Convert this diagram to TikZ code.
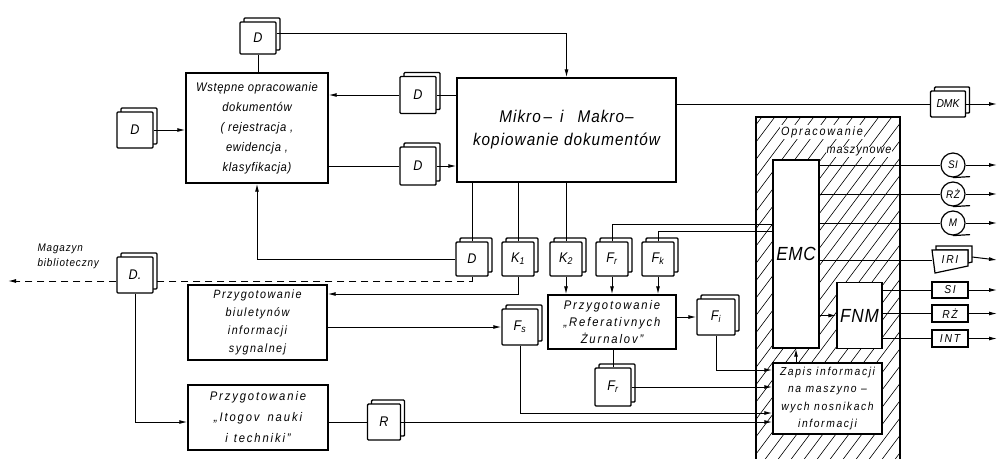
\documentclass[tikz,border=0pt]{standalone}
\usepackage{fontspec}
\setmainfont{Liberation Sans}[FakeStretch=0.9]
\usetikzlibrary{arrows.meta,shadows,calc}
\newcommand\dfnt[3]{\fontsize{#1}{#2}\selectfont\itshape\addfontfeature{LetterSpace=#3}}
\tikzset{
  bx/.style={draw, line width=1.4pt, fill=white, inner sep=1pt, align=center},
  doc/.style={draw, line width=1.4pt, fill=white, inner sep=0pt, rounded corners=1pt,
    minimum width=33, minimum height=34,
    copy shadow={shadow xshift=4pt, shadow yshift=4pt, draw, fill=white},
    font=\dfnt{14}{14}{0}},
  circ/.style={draw, circle, line width=1.2pt, fill=white, minimum size=24, inner sep=0pt, font=\dfnt{11}{11}{5}},
  outb/.style={draw, line width=1.2pt, fill=white, minimum width=36, minimum height=16, inner sep=0pt, font=\dfnt{11.5}{11}{15}},
  conn/.style={line width=1pt},
  arr/.style={line width=1pt, -{Latex[length=8pt,width=4pt]}},
}
\begin{document}
\begin{tikzpicture}[x=1pt,y=-1pt]
\useasboundingbox (0,0) rectangle (1000,458);
% coordinates for free ends
\coordinate (rx) at (997,0);
\coordinate (lx) at (8,0);
\coordinate (yd) at (0,281);
\coordinate (y294) at (0,294);
\coordinate (y413) at (0,413);
\coordinate (y370) at (0,370);
\coordinate (y224) at (0,224);
\coordinate (y231) at (0,231);
\coordinate (y33) at (0,33);
% hatched area
\begin{scope}
  \clip (756,117) rectangle (900,470);
  \foreach \i in {0,...,48} \draw[line width=0.6pt] ({380+13*\i},470) -- ({680+13*\i},70);
\end{scope}
\draw[line width=1.4pt] (756,460) |- (900,117) -- (900,460);
\node[fill=white, inner sep=1pt, font=\dfnt{12}{12}{15}] (opr) at (822,132) {Opracowanie};
\node[fill=white, inner sep=1pt, font=\dfnt{12}{12}{8}] (masz) at (859,152) {maszynowe};

% nodes
\node[doc, minimum width=36, minimum height=32] (dtop) at (258,38) {D};
\node[doc, minimum width=36, minimum height=36] (dleft) at (135,130) {D};
\node[doc, minimum width=36, minimum height=37] (dm1) at (418,95) {D};
\node[doc, minimum width=36, minimum height=38] (dm2) at (418,166) {D};
\node[bx, minimum width=142, minimum height=110, font=\dfnt{12.5}{20}{5}] (wst) at (257,128)
  {Wstępne opracowanie\\dokumentów\\( rejestracja ,\\ewidencja ,\\klasyfikacja)};
\node[bx, minimum width=219, minimum height=104, font=\dfnt{17}{23}{6}] (mikro) at (566.5,130)
  {Mikro\,–\hspace{8pt}i\hspace{14pt}Makro–\\kopiowanie dokumentów};
\node[doc, minimum width=35, minimum height=26, font=\dfnt{11.5}{11}{0}] (dmk) at (948,104) {DMK};

\node[doc, minimum width=32] (dbot) at (472,259) {D};
\node[doc, minimum width=32] (k1) at (518,259) {K\textsubscript{1}};
\node[doc, minimum width=32] (k2) at (566,259) {K\textsubscript{2}};
\node[doc, minimum width=32] (fr) at (612,259) {F\textsubscript{r}};
\node[doc, minimum width=32] (fk) at (658,259) {F\textsubscript{k}};

\node[doc, minimum width=36, minimum height=36] (dlib) at (135,275) {D.};
\node[anchor=west, align=left, font=\dfnt{11}{15}{8}] (mag) at (34,256) {Magazyn\\biblioteczny};

\node[bx, minimum width=139, minimum height=75, font=\dfnt{12}{18}{12}] (biul) at (257.5,322.5)
  {Przygotowanie\\biuletynów\\informacji\\sygnalnej};
\node[doc, minimum width=36, minimum height=36] (fs) at (520,327) {F\textsubscript{s}};
\node[bx, minimum width=128, minimum height=54, font=\dfnt{12.5}{17}{15}] (ref) at (612,322)
  {Przygotowanie\\„Referativnych\\Żurnalov”};
\node[doc, minimum width=38, minimum height=36] (fl) at (716,317) {F\textsubscript{i}};
\node[doc, minimum width=36, minimum height=38] (fr2) at (613,387) {F\textsubscript{r}};
\node[bx, minimum width=140, minimum height=65, font=\dfnt{12.5}{21}{15}] (itogov) at (258,417.5)
  {Przygotowanie\\„Itogov\hspace{8pt}nauki\\i\hspace{6pt}techniki”};
\node[doc, minimum width=33, minimum height=36] (r) at (384,422) {R};

\node[bx, minimum width=46, minimum height=188, font=\dfnt{19}{19}{4}] (emc) at (796,254) {EMC};
\node[bx, minimum width=45, minimum height=66, font=\dfnt{19}{19}{4}] (fnm) at (859.5,315.5) {FNM};
\node[bx, minimum width=109, minimum height=71, font=\dfnt{11.5}{17.5}{14}] (zapis) at (827.5,398.5)
  {Zapis informacji\\na maszyno –\\wych nosnikach\\informacji};

\node[circ] (si) at (953,165) {SI};
\node[circ] (rz) at (953,194) {RŻ};
\node[circ] (m) at (953,223) {M};
\draw[line width=1.2pt] (si.south) -- ++(17,-1);
\draw[line width=1.2pt] (rz.south) -- ++(17,-1);
\draw[line width=1.2pt] (m.south) -- ++(17,-1);
\draw[line width=1.2pt, fill=white] (936,246) -- (972,246) -- (972,262) -- (968,263) -- (968,250) -- (936,250) -- cycle;
\draw[line width=1.2pt, fill=white] (932,250) -- (968,250) -- (968,266) -- (935,273) -- cycle;
\node[minimum width=36, minimum height=22, inner sep=0pt, font=\dfnt{11.5}{11}{15}] (iri) at (950,260) {IRI};
\node[outb] (s1) at (950,290) {SI};
\node[outb, minimum height=17] (rz2) at (950,313.5) {RŻ};
\node[outb, minimum height=17] (int) at (950,338.5) {INT};

% connectors, upper part
\draw[arr] (dtop.east |- y33) -| (mikro.north);
\draw[conn] (dtop.south) -- (dtop.south |- wst.north);
\draw[arr] (dleft.east) -- (dleft.east -| wst.west);
\draw[conn] (mikro.west |- dm1) -- (dm1.east);
\draw[arr] (dm1.west) -- (dm1.west -| wst.east);
\draw[conn] (wst.east |- dm2) -- (dm2.west);
\draw[arr] (dm2.east) -- (dm2.east -| mikro.west);
\draw[conn] (mikro.east |- dmk) -- (dmk.west);
\draw[arr] (dmk.east) -- (dmk.east -| rx);

% from Mikro down
\draw[conn] (mikro.south -| dbot) -- (dbot.north);
\draw[conn] (mikro.south -| k1) -- (k1.north);
\draw[conn] (mikro.south -| k2) -- (k2.north);
\draw[arr] (dbot.west) -| (wst.south);
\draw[conn, dashed, dash pattern=on 7pt off 5pt] (dbot.south) -- (dbot.south |- yd) -- (dlib.east |- yd);
\draw[conn, dashed, dash pattern=on 7pt off 5pt, -{Latex[length=8pt,width=4pt]}] (dlib.west |- yd) -- (lx |- yd);

% lower left
\draw[arr] (dlib.south) |- (r -| itogov.west);
\draw[conn] (itogov.east |- r) -- (r.west);
\draw[arr] (r.east) -- (r.east -| zapis.west);
\draw[arr] (k1.south) |- (y294 -| biul.east);
\draw[arr] (biul.east |- fs) -- (fs.west);
\draw[arr] (fs.south) |- (y413 -| zapis.west);

% Ref. Zurnalov
\draw[arr] (k2.south) -- (k2.south |- ref.north);
\draw[arr] (fr.south) -- (fr.south |- ref.north);
\draw[arr] (fk.south) -- (fk.south |- ref.north);
\draw[arr] (ref.east |- fl) -- (fl.west);
\draw[arr] (fl.south) |- (y370 -| zapis.west);
\draw[conn] (ref.south -| fr2) -- (fr2.north);
\draw[arr] (fr2.east) -- (fr2.east -| zapis.west);
\draw[conn] (fr.north) |- (y224 -| emc.west);
\draw[conn] (fk.north) |- (y231 -| emc.west);

% machine processing
\draw[arr] (zapis.north -| emc.south) -- (emc.south);
\draw[arr] (emc.east |- fnm) -- (fnm.west);
\draw[conn] (emc.east |- si) -- (si.west);
\draw[conn] (emc.east |- rz) -- (rz.west);
\draw[conn] (emc.east |- m) -- (m.west);
\draw[conn] (emc.east |- iri) -- (iri.west);
\draw[arr] (si.east) -- (si.east -| rx);
\draw[arr] (rz.east) -- (rz.east -| rx);
\draw[arr] (m.east) -- (m.east -| rx);
\draw[arr] (iri.east) ++(4,-3) -- (iri.east -| rx);
\draw[conn] (fnm.east |- s1) -- (s1.west);
\draw[conn] (fnm.east |- rz2) -- (rz2.west);
\draw[conn] (fnm.east |- int) -- (int.west);
\draw[arr] (s1.east) -- (s1.east -| rx);
\draw[arr] (rz2.east) -- (rz2.east -| rx);
\draw[arr] (int.east) -- (int.east -| rx);
\end{tikzpicture}
\end{document}
